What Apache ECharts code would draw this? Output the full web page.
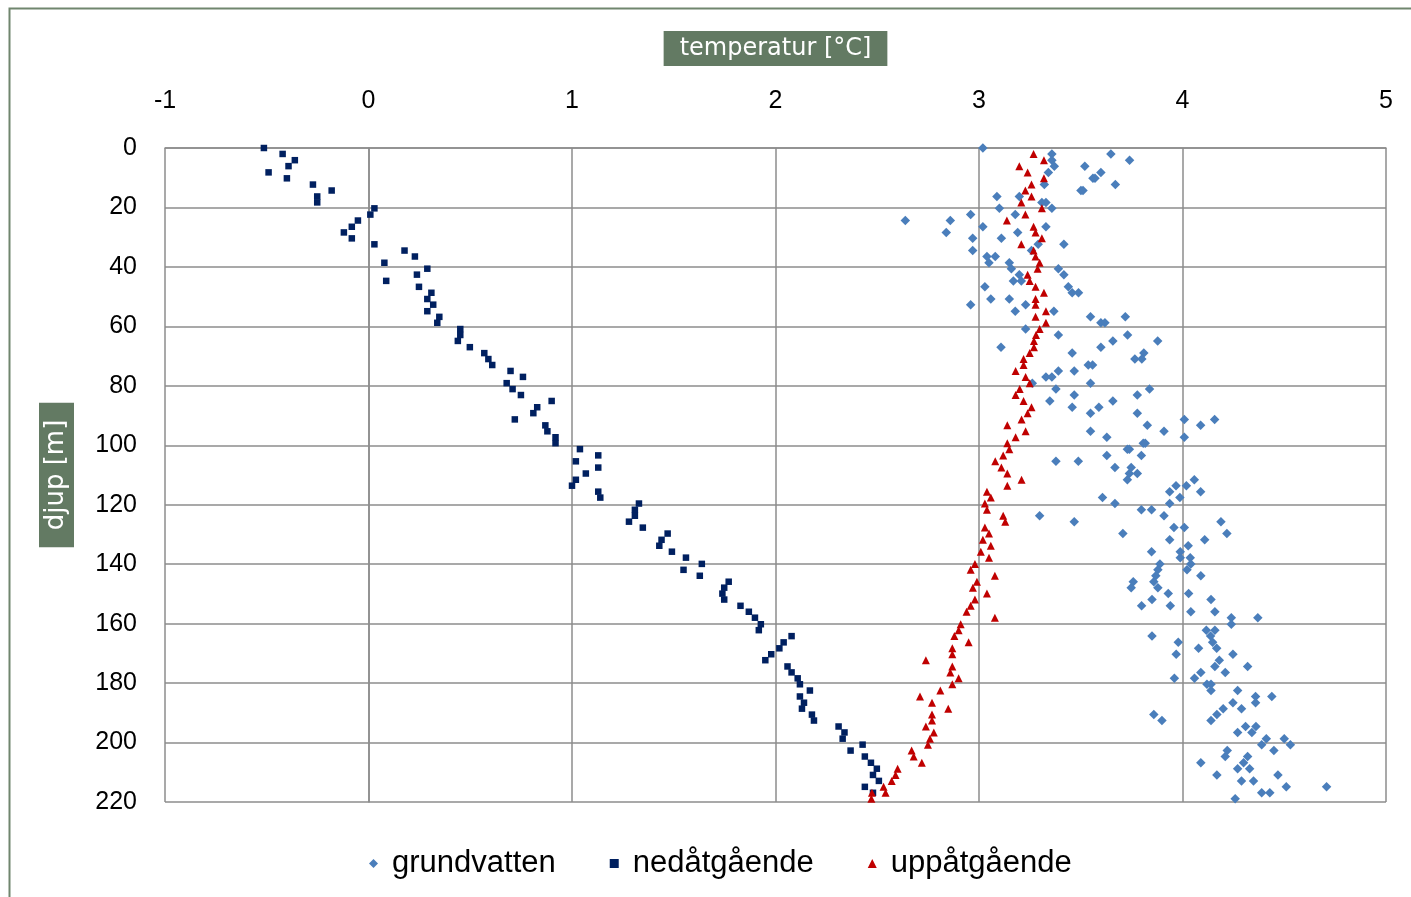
<!DOCTYPE html>
<html>
<head>
<meta charset="utf-8">
<title>temperatur</title>
<script src="https://cdn.jsdelivr.net/npm/echarts@6/dist/echarts.min.js"></script>
<style>
html, body { margin: 0; padding: 0; background: #fff; }
#container { width: 1411px; height: 897px; }
</style>
</head>
<body>
<div id="container"></div>
<script>
// djup [m] för varje mätnivå
var djup = [0.0,2.0,4.1,6.1,8.2,10.2,12.3,14.3,16.3,18.3,
	20.3,22.4,24.4,26.5,28.4,30.4,32.4,34.5,36.5,38.6,
	40.6,42.6,44.7,46.7,48.7,50.8,52.7,54.9,56.8,58.8,
	60.9,62.9,64.9,67.0,69.0,71.0,73.0,75.0,77.0,79.1,
	81.1,83.1,85.1,87.2,89.2,91.3,93.3,95.3,97.3,99.3,
	101.3,103.4,105.4,107.5,109.5,111.6,113.6,115.6,117.6,119.6,
	121.7,123.7,125.7,127.7,129.7,131.8,133.8,135.8,137.8,139.9,
	141.9,143.9,145.9,147.9,149.9,151.9,154.0,156.0,158.0,160.2,
	162.2,164.2,166.3,168.3,170.3,172.3,174.4,176.4,178.4,180.4,
	182.5,184.5,186.6,188.6,190.6,192.6,194.6,196.6,198.7,200.7,
	202.7,204.7,206.8,208.8,210.9,212.9,214.9,216.9,218.9];

// grundvatten, två värden per nivå
var grundvattenA = [3.019,3.358,3.358,3.370,3.341,3.560,3.321,3.501,3.088,3.309,
	3.100,2.959,2.638,3.019,2.839,2.969,3.291,2.969,3.039,3.049,
	3.159,3.198,3.169,3.029,3.458,3.058,2.959,3.178,3.548,3.599,
	3.229,3.390,3.658,3.108,3.458,3.766,3.537,3.390,3.329,3.262,
	3.378,3.468,3.348,3.458,3.548,4.009,3.827,3.548,3.628,3.807,
	3.729,3.628,3.378,3.668,3.739,3.729,3.968,3.937,3.607,3.668,
	3.798,3.298,3.468,3.958,3.707,3.937,4.028,3.848,3.989,3.889,
	3.879,3.869,3.758,3.748,3.930,3.850,3.799,4.041,4.240,4.240,
	4.117,3.850,3.979,4.079,3.969,4.181,4.159,4.090,3.960,4.120,
	4.140,4.359,4.248,4.200,3.859,3.899,4.310,4.271,4.412,4.389,
	4.220,4.210,4.090,4.271,4.169,4.290,4.510,4.389,4.259];
var grundvattenB = [null,3.648,3.740,3.520,3.599,3.570,3.670,3.511,3.198,3.329,
	3.358,3.178,2.859,3.329,3.190,3.110,3.417,3.258,3.080,3.149,
	3.390,3.417,3.208,3.439,3.489,3.149,3.229,3.368,3.719,3.619,
	null,3.730,3.878,3.599,3.810,3.800,3.558,3.468,3.358,3.548,
	3.838,3.778,3.658,3.589,3.778,4.158,4.089,3.909,4.009,3.817,
	3.739,3.798,3.488,3.748,3.778,4.058,4.019,4.089,3.987,3.937,
	3.848,3.909,4.189,4.009,4.218,4.109,null,3.989,4.038,4.041,
	4.022,4.090,3.859,3.879,4.030,4.140,3.940,4.159,4.370,null,
	4.159,4.138,4.148,4.168,4.248,null,4.320,4.210,4.059,4.140,
	4.271,4.439,4.359,4.290,4.169,4.140,4.361,4.341,4.500,4.530,
	4.449,4.320,4.300,4.330,4.469,4.349,4.708,4.429,null];

var nedatgaende = [-0.514,-0.422,-0.362,-0.393,-0.491,-0.401,-0.273,-0.181,-0.252,-0.252,
	0.029,0.009,-0.052,-0.082,-0.121,-0.082,0.029,0.177,0.228,0.078,
	0.289,0.238,0.087,0.248,0.309,0.289,0.318,0.289,0.348,0.338,
	0.451,0.451,0.439,0.498,0.569,0.589,0.608,0.698,0.759,0.679,
	0.708,0.749,0.900,0.829,0.810,0.719,0.869,0.879,0.919,0.919,
	1.039,1.129,1.019,1.129,1.068,1.019,1.000,1.129,1.139,1.329,
	1.309,1.309,1.280,1.348,1.470,1.440,1.429,1.491,1.560,1.638,
	1.548,1.628,1.770,1.748,1.739,1.748,1.828,1.869,1.899,1.928,
	1.918,2.079,2.040,2.019,1.979,1.950,2.059,2.079,2.109,2.120,
	2.169,2.120,2.140,2.130,2.179,2.189,2.310,2.339,2.330,2.428,
	2.369,2.439,2.469,2.498,2.479,2.508,2.439,2.479,null];

var uppatgaende = [null,3.268,3.319,3.198,3.239,3.319,3.258,3.228,3.258,3.208,
	3.309,3.228,3.137,3.268,3.278,3.309,3.208,3.268,3.278,3.298,
	3.288,3.239,3.249,3.278,3.319,3.278,3.278,3.329,3.278,3.329,
	3.298,3.280,3.270,3.270,3.249,3.219,3.219,3.180,3.229,3.249,
	3.200,3.180,3.219,3.258,3.239,3.209,3.139,3.229,3.180,3.139,
	3.149,3.119,3.080,3.110,3.139,3.209,3.139,3.039,3.058,3.029,
	3.039,3.119,3.129,3.029,3.049,3.019,3.058,3.009,3.049,2.980,
	2.959,3.078,2.990,2.970,3.039,2.980,2.959,2.939,3.078,2.910,
	2.900,2.879,2.949,2.869,2.869,2.739,2.869,2.859,2.900,2.869,
	2.810,2.710,2.769,2.849,2.769,2.769,2.739,2.778,2.759,2.749,
	2.669,2.679,2.719,2.600,2.590,2.571,2.531,2.541,2.471];
// en extra punkt nära botten
var uppExtraDjup = [216.9];
var uppExtraTemp = [2.474];

var xTicks = [-1, 5, 1];   // min, max, steg
var yTicks = [0, 220, 20];

function punkter(temp, d) {
	var ut = [];
	for (var i = 0; i < temp.length; i++) {
		if (temp[i] !== null) ut.push([temp[i], d[i]]);
	}
	return ut;
}

var grid_farg = '#8c8c8c';
var rubrik_farg = '#637a63';

var dom = document.getElementById("container");
var myChart = echarts.init(dom, null, { renderer: 'canvas' });

var option = {
	animation: false,
	backgroundColor: '#fff',
	graphic: [{
		type: 'polyline',
		shape: { points: [[9.5, 897], [9.5, 8.5], [1411, 8.5]] },
		style: { stroke: '#70866e', lineWidth: 2, fill: null }
	}],
	grid: { left: 165, right: 25, top: 148, bottom: 95 },
	legend: {
		data: ['grundvatten', 'nedåtgående', 'uppåtgående'],
		left: 364,
		top: 843,
		itemWidth: 9,
		itemHeight: 9,
		itemGap: 54,
		textStyle: { fontSize: 31, color: '#000', fontFamily: 'Liberation Sans', padding: [0, 0, 0, 9] }
	},
	xAxis: {
		type: 'value',
		position: 'top',
		min: xTicks[0], max: xTicks[1], interval: xTicks[2],
		name: 'temperatur [°C]',
		nameLocation: 'middle',
		nameGap: 82,
		nameTextStyle: {
			color: '#fff', backgroundColor: rubrik_farg, fontFamily: 'DejaVu Sans',
			fontSize: 24, lineHeight: 29, padding: [3, 16, 3, 16]
		},
		axisLine: { show: true, lineStyle: { color: grid_farg, width: 1.5 } },
		axisTick: { show: false },
		axisLabel: { color: '#000', fontSize: 25, margin: 34, fontFamily: 'Liberation Sans' },
		splitLine: { show: true, lineStyle: { color: grid_farg, width: 1.5 } }
	},
	yAxis: {
		type: 'value',
		inverse: true,
		min: yTicks[0], max: yTicks[1], interval: yTicks[2],
		name: 'djup [m]',
		nameLocation: 'middle',
		nameRotate: 90,
		nameGap: 91,
		nameTextStyle: {
			color: '#fff', backgroundColor: rubrik_farg, fontFamily: 'DejaVu Sans',
			fontSize: 26, lineHeight: 31, padding: [2, 17, 2, 17]
		},
		axisLine: { show: true, lineStyle: { color: grid_farg, width: 1.5 } },
		axisTick: { show: false },
		axisLabel: { color: '#000', fontSize: 25, margin: 28, fontFamily: 'Liberation Sans' },
		splitLine: { show: true, lineStyle: { color: grid_farg, width: 1.5 } }
	},
	series: [{
		name: 'grundvatten',
		type: 'scatter',
		symbol: 'diamond',
		symbolSize: 9.5,
		itemStyle: { color: '#4a7ebb', opacity: 1 },
		data: punkter(grundvattenA, djup).concat(punkter(grundvattenB, djup))
	}, {
		name: 'nedåtgående',
		type: 'scatter',
		symbol: 'rect',
		symbolSize: 6.5,
		itemStyle: { color: '#002060', opacity: 1 },
		data: punkter(nedatgaende, djup)
	}, {
		name: 'uppåtgående',
		type: 'scatter',
		symbol: 'triangle',
		symbolSize: 8,
		itemStyle: { color: '#c00000', opacity: 1 },
		data: punkter(uppatgaende, djup).concat(punkter(uppExtraTemp, uppExtraDjup))
	}]
};

if (option && typeof option === "object") {
	myChart.setOption(option, true);
}
</script>
</body>
</html>
